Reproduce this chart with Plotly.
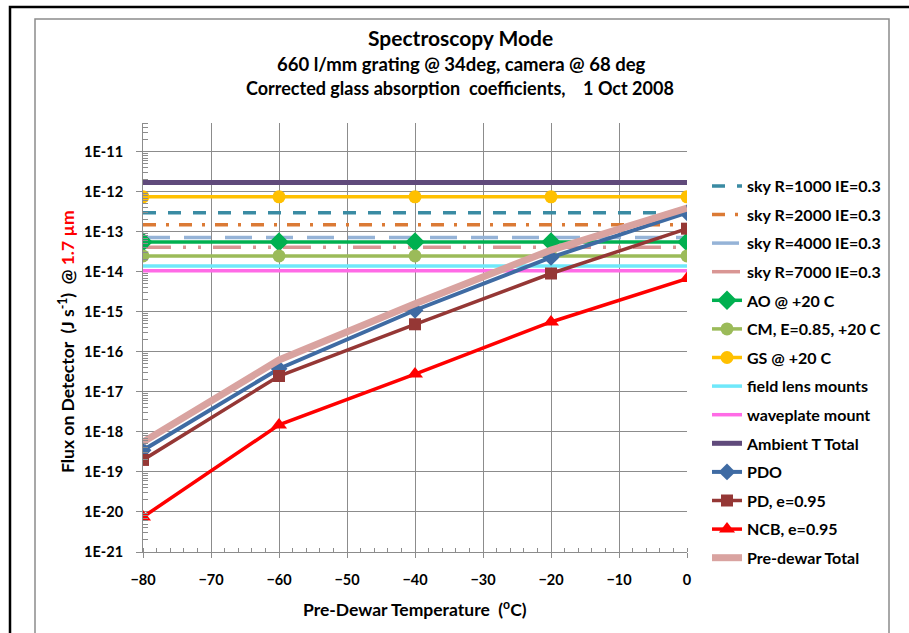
import plotly.graph_objects as go

# Pre-dewar temperatures (deg C)
temps = [-80, -60, -40, -20, 0]

# Flux on detector (J/s) at 1.7 um for each contributor
sky_r1000 = [3.0e-13, 3.0e-13, 3.0e-13, 3.0e-13, 3.0e-13]
sky_r2000 = [1.5e-13, 1.5e-13, 1.5e-13, 1.5e-13, 1.5e-13]
sky_r4000 = [7.2e-14, 7.2e-14, 7.2e-14, 7.2e-14, 7.2e-14]
sky_r7000 = [4.1e-14, 4.1e-14, 4.1e-14, 4.1e-14, 4.1e-14]
ao_20c = [5.6e-14, 5.6e-14, 5.6e-14, 5.6e-14, 5.6e-14]
cm_20c = [2.5e-14, 2.5e-14, 2.5e-14, 2.5e-14, 2.5e-14]
gs_20c = [7.5e-13, 7.5e-13, 7.5e-13, 7.5e-13, 7.5e-13]
field_lens = [1.4e-14, 1.4e-14, 1.4e-14, 1.4e-14, 1.4e-14]
waveplate = [1.06e-14, 1.06e-14, 1.06e-14, 1.06e-14, 1.06e-14]
ambient_total = [1.7e-12, 1.7e-12, 1.7e-12, 1.7e-12, 1.7e-12]
pdo = [3.5e-19, 3.8e-17, 1.1e-15, 2.3e-14, 3.0e-13]
pd_e095 = [2.0e-19, 2.5e-17, 4.9e-16, 9.1e-15, 1.2e-13]
ncb_e095 = [7.5e-21, 1.5e-18, 2.8e-17, 5.6e-16, 6.8e-15]
predewar_total = [5.6e-19, 6.3e-17, 1.6e-15, 3.5e-14, 3.9e-13]

# Axis ticks
x_ticks = [-80, -70, -60, -50, -40, -30, -20, -10, 0]
y_tick_vals = [1e-21, 1e-20, 1e-19, 1e-18, 1e-17, 1e-16, 1e-15, 1e-14, 1e-13, 1e-12, 1e-11]
y_tick_text = ["1E-21", "1E-20", "1E-19", "1E-18", "1E-17", "1E-16", "1E-15",
               "1E-14", "1E-13", "1E-12", "1E-11"]

FONT = "Lato"
W, H = 909, 633
ML, MR, MT, MB = 143, 222, 123, 81
PW, PH = W - ML - MR, H - MT - MB


def px(x):
    return (x - ML) / PW


def py(y):
    return (H - MB - y) / PH


fig = go.Figure()

series = [
    dict(name="sky R=1000 IE=0.3", y=sky_r1000, color="#3A8BA3", width=3.5, dash="13px,12px"),
    dict(name="sky R=2000 IE=0.3", y=sky_r2000, color="#DB7A35", width=3.5, dash="13px,10px,3px,10px"),
    dict(name="sky R=4000 IE=0.3", y=sky_r4000, color="#95B3D7", width=3.5, dash="27px,14px"),
    dict(name="sky R=7000 IE=0.3", y=sky_r7000, color="#D99694", width=3.5,
         dash="28px,12px,3px,12px,3px,12px"),
    dict(name="AO @ +20 C", y=ao_20c, color="#00B050", width=3.5, symbol="diamond", size=15),
    dict(name="CM, E=0.85, +20 C", y=cm_20c, color="#9BBB59", width=3.5, symbol="circle", size=13),
    dict(name="GS @ +20 C", y=gs_20c, color="#FFC000", width=3.5, symbol="circle", size=13),
    dict(name="field lens mounts", y=field_lens, color="#6FE8FA", width=3.5),
    dict(name="waveplate mount", y=waveplate, color="#FF6BE6", width=3.5),
    dict(name="Ambient T Total", y=ambient_total, color="#604A7B", width=5),
    dict(name="PDO", y=pdo, color="#3F6BA3", width=4, symbol="diamond", size=13),
    dict(name="PD, e=0.95", y=pd_e095, color="#953735", width=3.5, symbol="square", size=12),
    dict(name="NCB, e=0.95", y=ncb_e095, color="#FF0000", width=3.5, symbol="triangle-up", size=14),
    dict(name="Pre-dewar Total", y=predewar_total, color="#D9A3A0", width=7),
]

for i, s in enumerate(series):
    has_marker = "symbol" in s
    fig.add_trace(go.Scatter(
        x=temps, y=s["y"], name=s["name"],
        mode="lines+markers" if has_marker else "lines",
        line=dict(color=s["color"], width=s["width"], dash=s.get("dash", "solid")),
        marker=dict(symbol=s.get("symbol", "circle"), size=s.get("size", 6), color=s["color"],
                    line=dict(width=0)),
        legendgroup=f"g{i}",
    ))

axis_grey = "#8c8c8c"
tick_font = dict(family=FONT, size=14.5, color="#000000", weight="bold")

fig.update_xaxes(
    range=[-80, 0], tickmode="array", tickvals=x_ticks,
    showline=True, linecolor=axis_grey, linewidth=1,
    showgrid=True, gridcolor=axis_grey, gridwidth=1,
    ticks="outside", ticklen=5, tickcolor=axis_grey,
    minor=dict(dtick=2, ticks="inside", ticklen=4, tickcolor=axis_grey, showgrid=False),
    tickfont=tick_font,
    ticklabelstandoff=10,
    zeroline=False,
)

minor_vals = [m * 10.0 ** e for e in range(-21, -10) for m in range(2, 10)]

fig.update_yaxes(
    type="log", range=[-21, -10.28], tickmode="array",
    tickvals=y_tick_vals, ticktext=y_tick_text,
    showline=True, linecolor=axis_grey, linewidth=1,
    showgrid=True, gridcolor=axis_grey, gridwidth=1,
    ticks="outside", ticklen=6, tickcolor=axis_grey,
    minor=dict(tickmode="array", tickvals=minor_vals, ticks="inside", ticklen=5,
               tickcolor=axis_grey, showgrid=False),
    tickfont=tick_font,
    ticklabelstandoff=10,
    zeroline=False,
)

bold = dict(family=FONT, color="#000000", weight="bold")
annotations = [
    dict(text="Spectroscopy Mode", x=px(460), y=py(38), font=dict(size=21, **bold)),
    dict(text="660 l/mm grating @ 34deg, camera @ 68 deg", x=px(461), y=py(64),
         font=dict(size=18.5, **bold)),
    dict(text="Corrected glass absorption  coefficients,    1 Oct 2008", x=px(460), y=py(88),
         font=dict(size=18, **bold)),
    dict(text="Pre-Dewar Temperature  (<sup>o</sup>C)", x=px(415), y=py(608),
         font=dict(size=17.5, **bold)),
    dict(text="Flux on Detector  (J s<sup>-1</sup>)  @ <span style='color:#FF0000'>1.7 \u00b5m</span>",
         x=px(66), y=py(342), textangle=-90, font=dict(size=17.5, **bold)),
]
for a in annotations:
    a.update(xref="paper", yref="paper", showarrow=False, xanchor="center", yanchor="middle")

shapes = [
    dict(type="rect", xref="paper", yref="paper", x0=px(10), y0=py(645), x1=px(920), y1=py(7),
         line=dict(color="#000000", width=2.5), layer="below"),
    dict(type="rect", xref="paper", yref="paper", x0=px(35), y0=py(645), x1=px(889), y1=py(19),
         line=dict(color="#8c8c8c", width=1.5), layer="below"),
]

fig.update_layout(
    width=W, height=H,
    margin=dict(l=ML, r=MR, t=MT, b=MB, pad=0),
    paper_bgcolor="#ffffff", plot_bgcolor="#ffffff",
    showlegend=True,
    legend=dict(x=px(707), y=py(169), xanchor="left", yanchor="top",
                font=dict(family=FONT, size=16, color="#000000", weight="bold"),
                tracegroupgap=4.8, bgcolor="rgba(0,0,0,0)", itemwidth=30),
    annotations=annotations,
    shapes=shapes,
)

fig.write_html("out.html")
